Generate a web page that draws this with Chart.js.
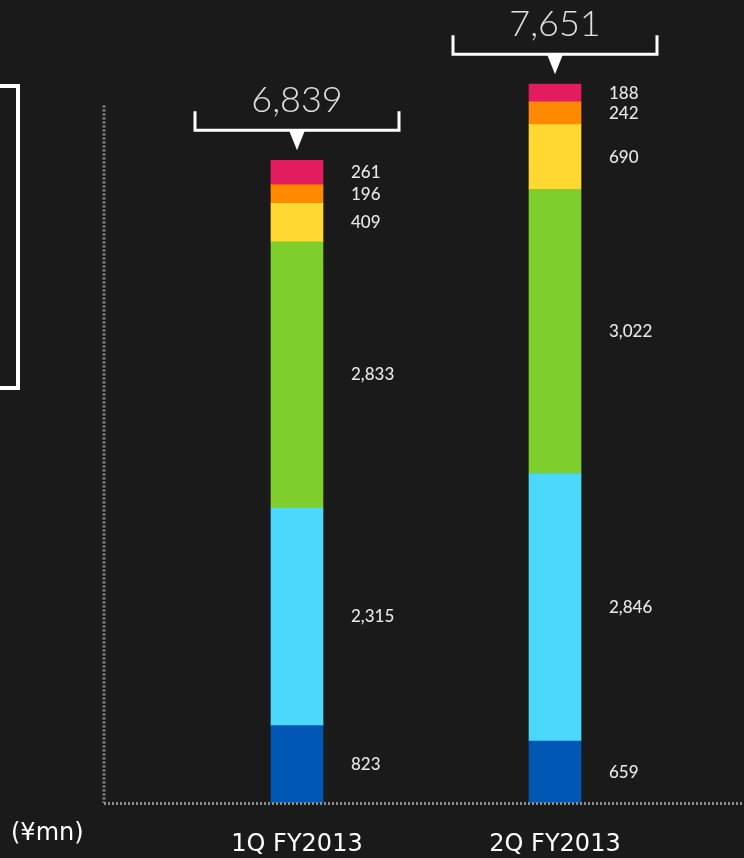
<!DOCTYPE html>
<html>
<head>
<meta charset="utf-8">
<script src="https://cdn.jsdelivr.net/npm/chart.js@4.4.0/dist/chart.umd.min.js"></script>
<style>
  html, body { margin: 0; padding: 0; background: #1a1a1a; }
  canvas { display: block; }
</style>
</head>
<body>
<canvas id="myChart" width="744" height="858"></canvas>
<script>
const quarters = ["1Q FY2013", "2Q FY2013"]
const totals = ["6,839", "7,651"]

// segments, bottom to top
const blueVals = [823, 659]
const cyanVals = [2315, 2846]
const greenVals = [2833, 3022]
const yellowVals = [409, 690]
const orangeVals = [196, 242]
const pinkVals = [261, 188]

const unitLabel = "(¥mn)"

const segments = [
  { data: blueVals, color: "#0057b3" },
  { data: cyanVals, color: "#4ad9fd" },
  { data: greenVals, color: "#7ecf2c" },
  { data: yellowVals, color: "#ffd932" },
  { data: orangeVals, color: "#ff8a00" },
  { data: pinkVals, color: "#e31b5f" }
]

// draws the dotted axes, the empty box on the left, value labels and the total brackets
const decorations = {
  id: "decorations",
  afterDatasetsDraw(chart) {
    const ctx = chart.ctx
    const area = chart.chartArea
    const yScale = chart.scales.y
    ctx.save()

    // left box (cut off at the edge)
    ctx.strokeStyle = "#ffffff"
    ctx.lineWidth = 4
    ctx.strokeRect(-10, 86, 28, 302)

    // dotted axes
    ctx.strokeStyle = "#8c8c8c"
    ctx.lineWidth = 3
    ctx.setLineDash([2, 2])
    ctx.beginPath()
    ctx.moveTo(area.left - 64, yScale.getPixelForValue(7420))
    ctx.lineTo(area.left - 64, area.bottom)
    ctx.moveTo(area.left - 64, area.bottom + 0.5)
    ctx.lineTo(area.right + 60, area.bottom + 0.5)
    ctx.stroke()
    ctx.setLineDash([])

    // segment value labels
    ctx.fillStyle = "#e6e6e6"
    ctx.font = "500 17px Lato, 'DejaVu Sans', sans-serif"
    ctx.textAlign = "left"
    ctx.textBaseline = "middle"
    chart.data.datasets.forEach((ds, di) => {
      const meta = chart.getDatasetMeta(di)
      meta.data.forEach((bar, i) => {
        const mid = (bar.y + bar.base) / 2
        ctx.fillText(ds.data[i].toLocaleString("en-US"), bar.x + bar.width / 2 + 28, mid)
      })
    })

    // brackets with totals
    const topMeta = chart.getDatasetMeta(chart.data.datasets.length - 1)
    topMeta.data.forEach((bar, i) => {
      const cx = bar.x
      const lineY = bar.y - 30
      ctx.strokeStyle = "#ffffff"
      ctx.lineWidth = 3
      ctx.beginPath()
      ctx.moveTo(cx - 102, lineY - 19)
      ctx.lineTo(cx - 102, lineY)
      ctx.lineTo(cx + 102, lineY)
      ctx.lineTo(cx + 102, lineY - 19)
      ctx.stroke()
      ctx.fillStyle = "#ffffff"
      ctx.beginPath()
      ctx.moveTo(cx - 8, lineY)
      ctx.lineTo(cx + 8, lineY)
      ctx.lineTo(cx, lineY + 20)
      ctx.closePath()
      ctx.fill()

      ctx.fillStyle = "#e0e0e0"
      ctx.font = "300 36px Lato, 'DejaVu Sans', sans-serif"
      ctx.textAlign = "center"
      ctx.textBaseline = "middle"
      ctx.fillText(totals[i], cx, lineY - 30)
    })

    // unit label
    ctx.fillStyle = "#ffffff"
    ctx.font = "24px 'DejaVu Sans', sans-serif"
    ctx.textAlign = "left"
    ctx.textBaseline = "middle"
    ctx.fillText(unitLabel, 11, area.bottom + 31)

    ctx.restore()
  }
}

const ctx = document.getElementById("myChart")

const revenueChart = new Chart(ctx, {
  type: "bar",
  data: {
    labels: quarters,
    datasets: segments.map(s => ({
      data: s.data,
      backgroundColor: s.color,
      borderWidth: 0,
      barThickness: 52
    }))
  },
  options: {
    responsive: false,
    animation: false,
    layout: {
      padding: { left: 168, right: 60, top: 4, bottom: 0 }
    },
    plugins: {
      legend: { display: false },
      tooltip: { enabled: false }
    },
    scales: {
      x: {
        stacked: true,
        grid: { display: false },
        border: { display: false },
        afterFit(scale) { scale.height = 55 },
        ticks: {
          color: "#ffffff",
          padding: 19,
          font: { family: "'DejaVu Sans', sans-serif", size: 24 }
        }
      },
      y: {
        stacked: true,
        display: false,
        min: 0,
        max: 8500
      }
    }
  },
  plugins: [decorations]
})
</script>
</body>
</html>
